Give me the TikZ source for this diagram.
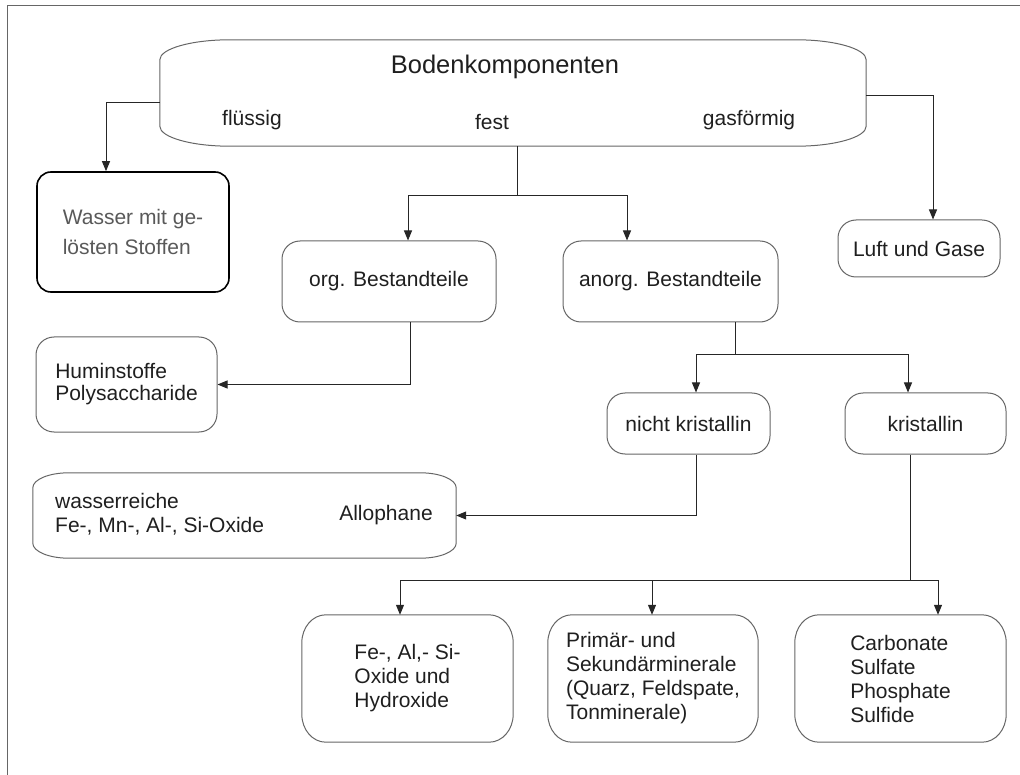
\documentclass[tikz,border=0pt]{standalone}
\usepackage{fontspec}
\setmainfont{Liberation Sans}
\usetikzlibrary{arrows.meta}
\newcommand\ellboxpath[3]{%
  \draw[boxline] ([xshift=#2]#1.north west) -- ([xshift=-#2]#1.north east)
    arc[start angle=90, end angle=0, x radius=#2, y radius=#3]
    -- ([yshift=#3]#1.south east)
    arc[start angle=0, end angle=-90, x radius=#2, y radius=#3]
    -- ([xshift=#2]#1.south west)
    arc[start angle=270, end angle=180, x radius=#2, y radius=#3]
    -- ([yshift=-#3]#1.north west)
    arc[start angle=180, end angle=90, x radius=#2, y radius=#3] -- cycle;}
\begin{document}
\begin{tikzpicture}[x=1pt,y=1pt,
  txt/.style={font=\fontsize{21}{24}\selectfont, text=black!88, inner sep=0pt, align=left},
  boxline/.style={draw=black!60, line width=1pt},
  box/.style={txt, boxline, rounded corners=18pt},
  shapebox/.style={txt, draw=none},
  link/.style={draw=black!85, line width=1pt},
  arr/.style={link, -{Triangle[length=10pt,width=8pt]}}
]
\useasboundingbox (0,0) rectangle (1020,-775);
% frame
\draw[black!60, line width=1pt] (7,-775) -- (7,-6) -- (1020,-6);

% top component box
\node[shapebox, minimum width=706, minimum height=106] (top) at (513,-93) {};
\ellboxpath{top}{70}{20}
\node[txt, font=\fontsize{25.5}{28}\selectfont] (title) at (505,-67) {Bodenkomponenten};
\node[txt] (fl) at (252,-120) {flüssig};
\node[txt] (fe) at (492,-122) {fest};
\node[txt] (gas) at (749,-120) {gasförmig};

% first level
\node[box, draw=black, line width=1.6pt, rounded corners=14pt, minimum width=192, minimum height=120,
      text=black!65, font=\fontsize{21}{30}\selectfont] (wasser) at (133,-232) {Wasser mit ge-\\lösten Stoffen};
\node[box, minimum width=162, minimum height=57] (luft) at (919,-248.5) {Luft und Gase};
\node[box, minimum width=214, minimum height=81] (org) at (389,-281.5) {org. Bestandteile};
\node[box, minimum width=215, minimum height=81] (anorg) at (670.5,-281.5) {anorg. Bestandteile};

% organic
\node[box, font=\fontsize{21}{22}\selectfont, minimum width=181, minimum height=95] (hum) at (126.5,-384.5) {Huminstoffe\\Polysaccharide};

% anorganic
\node[box, minimum width=163, minimum height=61] (nk) at (688.5,-423.5) {nicht kristallin};
\node[box, minimum width=161, minimum height=61] (kr) at (925.5,-423.5) {kristallin};

% allophane
\node[shapebox, minimum width=423, minimum height=85] (allo) at (244.5,-515.5) {};
\ellboxpath{allo}{36}{15}
\node[txt, anchor=west] (allotxt) at (55,-514) {wasserreiche\\Fe-, Mn-, Al-, Si-Oxide};
\node[txt] (allophane) at (386,-515) {Allophane};

% bottom row
\node[shapebox, minimum width=211, minimum height=127] (feal) at (407.5,-678.5) {Fe-, Al,- Si-\\Oxide und\\Hydroxide};
\ellboxpath{feal}{24}{28}
\node[shapebox, minimum width=210, minimum height=127] (prim) at (653,-678.5) {Primär- und\\Sekundärminerale\\(Quarz, Feldspate,\\Tonminerale)};
\ellboxpath{prim}{24}{28}
\node[shapebox, minimum width=211, minimum height=127] (carb) at (900.5,-678.5) {Carbonate\\Sulfate\\Phosphate\\Sulfide};
\ellboxpath{carb}{24}{28}

% connectors
\draw[arr] ([yshift=-10]top.west) -| ([xshift=-27]wasser.north);
\draw[arr] ([yshift=-3]top.east) -| ([xshift=14]luft.north);

\draw[link] ([xshift=4]top.south) -- ++(0,-49) coordinate (j1);
\draw[arr] (j1) -| ([xshift=19]org.north);
\draw[arr] (j1) -| ([xshift=-43.5]anorg.north);

\draw[arr] ([xshift=21]org.south) |- (hum.east);

\draw[link] ([xshift=64.5]anorg.south) -- ++(0,-32) coordinate (j2);
\draw[arr] (j2) -| ([xshift=7.5]nk.north);
\draw[arr] (j2) -| ([xshift=-17.5]kr.north);

\draw[arr] ([xshift=7.5]nk.south) |- (allo.east);

\draw[link] ([xshift=-15.5]kr.south) -- ++(0,-126) coordinate (j3);
\draw[arr] (j3) -| ([xshift=-7.5]feal.north);
\draw[arr] (j3) -| ([xshift=-1]prim.north);
\draw[arr] (j3) -| ([xshift=37.5]carb.north);
\end{tikzpicture}
\end{document}
